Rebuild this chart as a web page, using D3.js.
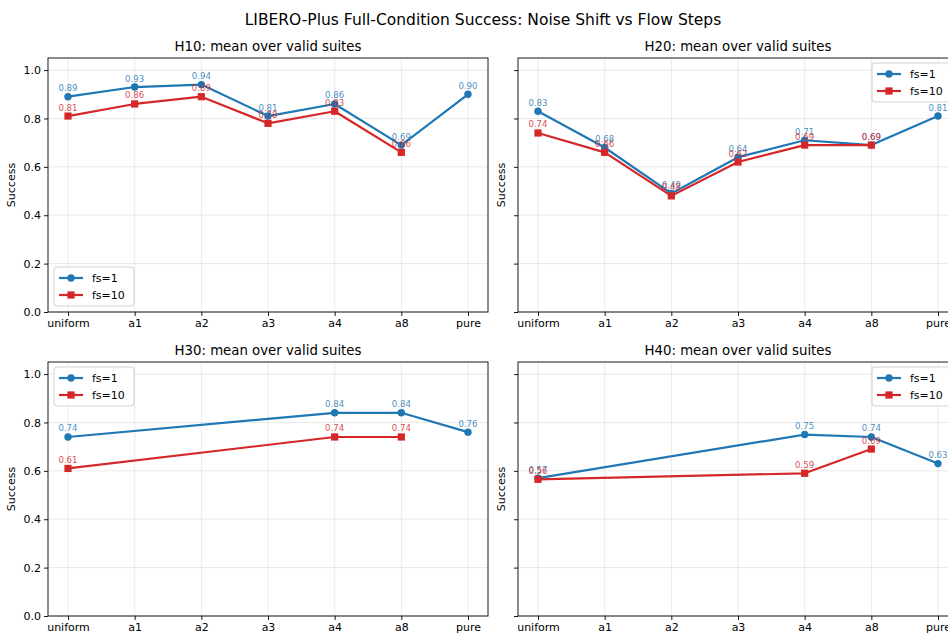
<!DOCTYPE html>
<html>
<head>
<meta charset="utf-8">
<script src="https://cdn.jsdelivr.net/npm/d3@7"></script>
<style>
	body { margin: 0; background: #fff; overflow: hidden; }
	text { font-family: "DejaVu Sans", sans-serif; }
</style>
</head>
<body>
<div id="chart"></div>
<script>
// chart values
const categories = ["uniform", "a1", "a2", "a3", "a4", "a8", "pure"];
const panelTitles = ["H10: mean over valid suites", "H20: mean over valid suites",
	"H30: mean over valid suites", "H40: mean over valid suites"];
const seriesNames = ["fs=1", "fs=10"];
const yTicks = [0.0, 0.2, 0.4, 0.6, 0.8, 1.0];

const h10_fs1  = [0.89, 0.93, 0.94, 0.81, 0.86, 0.69, 0.90];
const h10_fs10 = [0.81, 0.86, 0.89, 0.78, 0.83, 0.66, null];
const h20_fs1  = [0.83, 0.68, 0.49, 0.64, 0.71, 0.69, 0.81];
const h20_fs10 = [0.74, 0.66, 0.48, 0.62, 0.69, 0.69, null];
const h30_fs1  = [0.74, null, null, null, 0.84, 0.84, 0.76];
const h30_fs10 = [0.61, null, null, null, 0.74, 0.74, null];
const h40_fs1  = [0.57, null, null, null, 0.75, 0.74, 0.63];
const h40_fs10 = [0.565, null, null, null, 0.59, 0.69, null];

const W = 948, H = 635,
	COLORS = ["#1f77b4", "#d62728"],
	AX_W = 440, AX_H = 254;

const panels = [
	{title: panelTitles[0], s: [h10_fs1, h10_fs10], left: 48,  top: 58,  legend: "lower left",  ylab: true},
	{title: panelTitles[1], s: [h20_fs1, h20_fs10], left: 518, top: 58,  legend: "upper right", ylab: false},
	{title: panelTitles[2], s: [h30_fs1, h30_fs10], left: 48,  top: 362, legend: "upper left",  ylab: true},
	{title: panelTitles[3], s: [h40_fs1, h40_fs10], left: 518, top: 362, legend: "upper right", ylab: false}
];

var svg = d3.select("#chart").append("svg")
	.attr("width", W).attr("height", H);

svg.append("text")
	.attr("x", 483).attr("y", 25)
	.attr("text-anchor", "middle")
	.style("font-size", "15.5px")
	.text("LIBERO-Plus Full-Condition Success: Noise Shift vs Flow Steps");

var x = d3.scaleLinear().domain([-0.3, 6.3]).range([0, AX_W]);
var y = d3.scaleLinear().domain([0, 1.05]).range([AX_H, 0]);

function drawMarker(g, k, cx, cy) {
	if (k == 0) {
		g.append("circle").attr("cx", cx).attr("cy", cy).attr("r", 3.7)
			.attr("fill", COLORS[k]);
	} else {
		g.append("rect").attr("x", cx - 3.6).attr("y", cy - 3.6)
			.attr("width", 7.2).attr("height", 7.2).attr("fill", COLORS[k]);
	}
}

panels.forEach(function(p) {
	var g = svg.append("g").attr("transform", "translate(" + p.left + "," + p.top + ")");

	g.append("text")
		.attr("x", AX_W / 2).attr("y", -7)
		.attr("text-anchor", "middle")
		.style("font-size", "13.3px")
		.text(p.title);

	// grid
	g.append("g").selectAll("line").data(categories).enter().append("line")
		.attr("x1", (d, i) => x(i)).attr("x2", (d, i) => x(i))
		.attr("y1", 0).attr("y2", AX_H)
		.attr("stroke", "#b0b0b0").attr("stroke-opacity", 0.3).attr("stroke-width", 0.9);
	g.append("g").selectAll("line").data(yTicks).enter().append("line")
		.attr("x1", 0).attr("x2", AX_W)
		.attr("y1", d => y(d)).attr("y2", d => y(d))
		.attr("stroke", "#b0b0b0").attr("stroke-opacity", 0.3).attr("stroke-width", 0.9);

	// axes
	var xAxis = d3.axisBottom(x).tickValues(d3.range(categories.length))
		.tickFormat(i => categories[i]).tickSize(4).tickPadding(3);
	var yAxis = d3.axisLeft(y).tickValues(yTicks)
		.tickFormat(p.ylab ? d3.format(".1f") : "").tickSize(4).tickPadding(3);
	var gx = g.append("g").attr("transform", "translate(0," + AX_H + ")").call(xAxis);
	var gy = g.append("g").call(yAxis);
	[gx, gy].forEach(function(a) {
		a.select(".domain").remove();
		a.selectAll("line").attr("stroke", "#000").attr("stroke-width", 0.9);
		a.selectAll("text").attr("fill", "#000").style("font-size", "11px")
			.style("font-family", "DejaVu Sans, sans-serif");
	});
	g.append("rect").attr("width", AX_W).attr("height", AX_H)
		.attr("fill", "none").attr("stroke", "#000").attr("stroke-width", 0.9);

	// shared y: right panels have no tick labels, so the label sits closer
	var labX = p.ylab ? -33 : -13;
	g.append("text")
		.attr("transform", "translate(" + labX + "," + (AX_H / 2) + ") rotate(-90)")
		.attr("text-anchor", "middle")
		.style("font-size", "11px")
		.text("Success");

	// series
	p.s.forEach(function(vals, k) {
		var pts = vals.map((v, i) => ({i: i, v: v})).filter(d => d.v != null);
		g.append("path").datum(pts)
			.attr("fill", "none").attr("stroke", COLORS[k]).attr("stroke-width", 2.2)
			.attr("stroke-linejoin", "round")
			.attr("d", d3.line().x(d => x(d.i)).y(d => y(d.v)));
		pts.forEach(d => drawMarker(g, k, x(d.i), y(d.v)));
		g.append("g").selectAll("text").data(pts).enter().append("text")
			.attr("x", d => x(d.i)).attr("y", d => y(d.v) - 5.5)
			.attr("text-anchor", "middle")
			.attr("fill", COLORS[k]).attr("fill-opacity", 0.85)
			.style("font-size", "8.6px")
			.text(d => d.v.toFixed(2));
	});

	// legend
	var LW = 80, LH = 39, lx, ly;
	if (p.legend == "lower left") { lx = 6; ly = AX_H - 6 - LH; }
	else if (p.legend == "upper left") { lx = 6; ly = 5; }
	else { lx = AX_W - 6 - LW; ly = 5; }
	var lg = g.append("g").attr("transform", "translate(" + lx + "," + ly + ")");
	lg.append("rect").attr("width", LW).attr("height", LH).attr("rx", 3)
		.attr("fill", "#fff").attr("fill-opacity", 0.8)
		.attr("stroke", "#cccccc").attr("stroke-width", 0.9);
	seriesNames.forEach(function(name, k) {
		var yy = 11 + k * 17;
		lg.append("line").attr("x1", 5).attr("x2", 29).attr("y1", yy).attr("y2", yy)
			.attr("stroke", COLORS[k]).attr("stroke-width", 2.2);
		drawMarker(lg, k, 17, yy);
		lg.append("text").attr("x", 38).attr("y", yy + 4)
			.style("font-size", "11px").text(name);
	});
});
</script>
</body>
</html>
